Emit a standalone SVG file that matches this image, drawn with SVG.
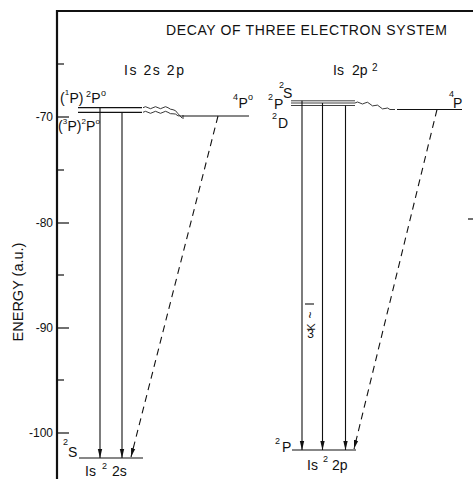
<svg xmlns="http://www.w3.org/2000/svg" width="473" height="479" viewBox="0 0 473 479">
<style>
text{font-family:"Liberation Sans",Arial,sans-serif;fill:#111}
.t{font-size:14px}
.s{font-size:9px}
.ss{font-size:8px}
.ax{font-size:12px}
.ln{stroke:#111;stroke-width:1.1;fill:none}
.lv{stroke:#111;stroke-width:1.2;fill:none}
.lt{stroke:#111;stroke-width:0.8;fill:none}
.dash{stroke:#111;stroke-width:1.1;fill:none;stroke-dasharray:7 5}
.wv{stroke:#222;stroke-width:0.9;fill:none}
</style>
<defs>
<marker id="ah" markerWidth="10" markerHeight="6" refX="9" refY="3" orient="auto" markerUnits="userSpaceOnUse">
<path d="M0,0.8 L9,3 L0,5.2 Z" fill="#111"/>
</marker>
</defs>
<rect width="473" height="479" fill="#fff"/>

<g id="frame">
<line x1="57" y1="11" x2="473" y2="11" stroke="#111" stroke-width="2"/>
<line x1="57" y1="10" x2="57" y2="479" stroke="#111" stroke-width="2.2"/>
<g stroke="#111" stroke-width="1.2">
<line x1="57" y1="64" x2="64" y2="64"/>
<line x1="57" y1="117" x2="69" y2="117"/>
<line x1="57" y1="170" x2="64" y2="170"/>
<line x1="57" y1="223" x2="69" y2="223"/>
<line x1="57" y1="275" x2="64" y2="275"/>
<line x1="57" y1="328" x2="69" y2="328"/>
<line x1="57" y1="380" x2="64" y2="380"/>
<line x1="57" y1="433" x2="69" y2="433"/>
<line x1="468" y1="219" x2="473" y2="219"/>
</g>
<g class="ax" text-anchor="end">
<text x="53" y="121">-70</text>
<text x="53" y="227">-80</text>
<text x="53" y="332">-90</text>
<text x="53" y="437">-100</text>
</g>
<text transform="translate(23,292) rotate(-90)" text-anchor="middle" style="font-size:14.5px">ENERGY (a.u.)</text>
<text x="166" y="35" class="t" textLength="281" lengthAdjust="spacing">DECAY OF THREE ELECTRON SYSTEM</text>
</g>

<g id="config-1s2s2p">
<text x="124" y="75" class="t" textLength="60" lengthAdjust="spacing">Is 2s 2p</text>
</g>
<g id="config-1s2p2">
<text x="333" y="75" class="t">Is</text>
<text x="352" y="75" class="t">2p</text>
<text x="372" y="71" class="s" style="font-size:10px">2</text>
</g>

<g id="level-1P-2Po">
<line class="lv" x1="78" y1="107.7" x2="142" y2="107.7"/>
<text x="60" y="103" class="t">(</text>
<text x="64.8" y="95" class="ss">1</text>
<text x="69.4" y="103" class="t">P)</text>
<text x="86" y="97" class="s">2</text>
<text x="91.2" y="103" class="t">P</text>
<text x="101" y="96" class="s">o</text>
</g>
<g id="level-3P-2Po">
<line class="lv" x1="78" y1="112.3" x2="142" y2="112.3"/>
<text x="58" y="131" class="t">(</text>
<text x="62.8" y="124" class="ss">3</text>
<text x="67.4" y="131" class="t">P)</text>
<text x="81.4" y="124" class="ss">2</text>
<text x="86" y="131" class="t">P</text>
<text x="95.6" y="124" class="ss">o</text>
</g>
<g id="level-4Po">
<line class="lv" x1="182" y1="116" x2="249" y2="116"/>
<text x="233" y="100" class="s">4</text>
<text x="238.5" y="108" class="t">P</text>
<text x="248" y="100" class="s">o</text>
</g>
<g id="level-2S-1s22s">
<line class="lv" x1="79" y1="458" x2="143" y2="458"/>
<text x="63" y="445" class="s">2</text>
<text x="68" y="457" class="t">S</text>
<text x="85" y="476" class="t">Is</text>
<text x="102" y="469" class="s">2</text>
<text x="112" y="476" class="t">2s</text>
</g>

<g id="level-2S">
<line class="lt" x1="291" y1="100.8" x2="355" y2="100.8"/>
<text x="279" y="88" class="s">2</text>
<text x="283" y="98" class="t">S</text>
</g>
<g id="level-2P">
<line class="lt" x1="291" y1="103" x2="355" y2="103"/>
<text x="268" y="100" class="s">2</text>
<text x="274" y="109" class="t">P</text>
</g>
<g id="level-2D">
<line class="lt" x1="291" y1="105.5" x2="355" y2="105.5"/>
<text x="272" y="119" class="s">2</text>
<text x="278" y="128" class="t">D</text>
</g>
<g id="level-4P">
<line class="lv" x1="397" y1="109.5" x2="462" y2="109.5"/>
<text x="449" y="97" class="s">4</text>
<text x="453" y="108" class="t">P</text>
</g>
<g id="level-2P-1s22p">
<line class="lv" x1="292" y1="450" x2="356" y2="450"/>
<text x="275" y="444" class="s">2</text>
<text x="282" y="452" class="t">P</text>
<text x="307" y="470" class="t">Is</text>
<text x="323" y="462" class="s">2</text>
<text x="332" y="470" class="t">2p</text>
</g>

<g id="note-3K">
<line x1="305" y1="304" x2="314" y2="304" stroke="#111" stroke-width="1.1"/>
<text transform="translate(306,315) rotate(90)" text-anchor="middle" style="font-size:12px">~</text>
<text transform="translate(315,327) rotate(-90)" text-anchor="middle" style="font-size:11px">K</text>
<text x="310.5" y="338" text-anchor="middle" style="font-size:12px">3</text>
</g>

<g id="connectors">
<path class="wv" d="M143,107.7 q2.5,-2 5,0 t5,0 t5,0 t5,0 t5,0 t5,2 t5,4 l4,4.3 h2"/>
<path class="wv" d="M143,112.3 q2.5,-2 5,0 t5,0 t5,0 t5,0 t5,0 t5,1.5 t5,2 l4,0.2 h2"/>
<path class="wv" d="M355,103 q2.5,-2 5,0 t5,0 t5,1 t5,1.5 t5,1.5 t5,1.5 t5,1 l2,0 h3"/>
<line class="ln" x1="100" y1="107.7" x2="100" y2="458" marker-end="url(#ah)"/>
<line class="ln" x1="122" y1="112.3" x2="122" y2="458" marker-end="url(#ah)"/>
<line class="dash" x1="218" y1="116" x2="131" y2="457" marker-end="url(#ah)"/>
<line class="ln" x1="302" y1="100.8" x2="302" y2="450" marker-end="url(#ah)"/>
<line class="ln" x1="322.5" y1="103" x2="322.5" y2="450" marker-end="url(#ah)"/>
<line class="ln" x1="345.5" y1="105.5" x2="345.5" y2="450" marker-end="url(#ah)"/>
<line class="dash" x1="437" y1="109.5" x2="354" y2="449" marker-end="url(#ah)"/>
</g>
</svg>
